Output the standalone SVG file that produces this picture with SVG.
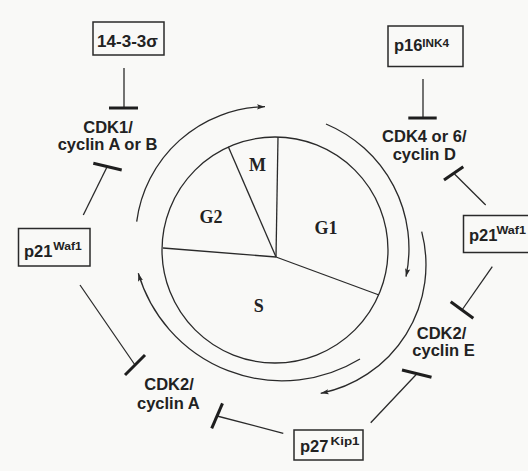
<svg xmlns="http://www.w3.org/2000/svg" width="528" height="471" viewBox="0 0 528 471">
<style>
.bg{fill:#f9f9f7}
.box{fill:none;stroke:#2a2a2a;stroke-width:1.5}
.ln{fill:none;stroke:#2a2a2a;stroke-width:1.3}
.bar{fill:none;stroke:#1e1e1e;stroke-width:3;stroke-linecap:butt}
.arc{fill:none;stroke:#2a2a2a;stroke-width:1.3;marker-end:url(#ah)}
.lab{font-family:"Liberation Sans",Arial,sans-serif;font-weight:bold;font-size:16.5px;fill:#222}
.sup{font-family:"Liberation Sans",Arial,sans-serif;font-weight:bold;font-size:11px;fill:#222}
.ph{font-family:"Liberation Serif","Times New Roman",serif;font-weight:bold;font-size:18px;fill:#222;text-anchor:middle}
</style>
<defs>
<marker id="ah" markerWidth="9" markerHeight="6" refX="8" refY="3" orient="auto" markerUnits="userSpaceOnUse">
<path d="M0,0.4 L8,3 L0,5.6 L1.5,3 z" fill="#2a2a2a"/>
</marker>
</defs>
<rect class="bg" x="0" y="0" width="528" height="471"/>

<g id="cycle">
<circle class="ln" cx="275" cy="250" r="113"/>
<line class="ln" x1="276" y1="257" x2="278" y2="137"/>
<line class="ln" x1="276" y1="257" x2="228.3" y2="146.7"/>
<line class="ln" x1="276" y1="257" x2="163" y2="248"/>
<line class="ln" x1="276" y1="257" x2="379" y2="295"/>
<text class="ph" x="257.5" y="171">M</text>
<text class="ph" x="211" y="223">G2</text>
<text class="ph" x="326" y="233.5">G1</text>
<text class="ph" x="258.7" y="311.5">S</text>
</g>

<g id="cycle-arrows">
<path class="arc" d="M136.7,221.7 A132,132 0 0 1 265,106.7"/>
<path class="arc" d="M326,124 A135,135 0 0 1 406,276.7"/>
<path class="arc" d="M421.7,231.7 A131,131 0 0 1 320.7,393.3"/>
<path class="arc" d="M360,359 A150,150 0 0 1 138.3,273.3"/>
</g>

<g id="n1433">
<rect class="box" x="93" y="22" width="71" height="33"/>
<text class="lab" x="127.5" y="46.5" text-anchor="middle" style="font-size:17px">14-3-3σ</text>
</g>
<g id="np16">
<rect class="box" x="388" y="26" width="75" height="40.5"/>
<text class="lab" x="394" y="50.5">p16</text>
<text class="sup" x="422.3" y="47.3" textLength="26.7" lengthAdjust="spacingAndGlyphs">INK4</text>
</g>
<g id="np21left">
<rect class="box" x="18.5" y="228.5" width="71.5" height="37.5"/>
<text class="lab" x="24" y="256.5">p21</text>
<text class="sup" x="53.3" y="249.5" textLength="28.4" lengthAdjust="spacingAndGlyphs">Waf1</text>
</g>
<g id="np21right">
<rect class="box" x="463.5" y="215.5" width="80" height="37"/>
<text class="lab" x="469" y="241">p21</text>
<text class="sup" x="496.5" y="234.3" textLength="29.5" lengthAdjust="spacingAndGlyphs">Waf1</text>
</g>
<g id="np27">
<rect class="box" x="294" y="430" width="69" height="30"/>
<text class="lab" x="300" y="451.5">p27</text>
<text class="sup" x="330.5" y="444.5" textLength="29" lengthAdjust="spacingAndGlyphs">Kip1</text>
</g>
<g id="cdk1">
<text class="lab" x="108" y="133" text-anchor="middle">CDK1/</text>
<text class="lab" x="107.5" y="150" text-anchor="middle">cyclin A or B</text>
</g>
<g id="cdk4">
<text class="lab" x="424.3" y="141.7" text-anchor="middle">CDK4 or 6/</text>
<text class="lab" x="424.3" y="160" text-anchor="middle">cyclin D</text>
</g>
<g id="cdk2e">
<text class="lab" x="441.5" y="338.5" text-anchor="middle">CDK2/</text>
<text class="lab" x="443.5" y="356" text-anchor="middle">cyclin E</text>
</g>
<g id="cdk2a">
<text class="lab" x="169" y="390" text-anchor="middle">CDK2/</text>
<text class="lab" x="168.3" y="409" text-anchor="middle">cyclin A</text>
</g>

<g id="connectors">
<line class="ln" x1="124" y1="68" x2="124" y2="108"/>
<line class="bar" x1="109" y1="108" x2="138" y2="108"/>
<line class="ln" x1="423" y1="79" x2="423" y2="118"/>
<line class="bar" x1="408.3" y1="118" x2="436.7" y2="118"/>
<line class="ln" x1="83.3" y1="215" x2="107" y2="167"/>
<line class="bar" x1="93.3" y1="163.3" x2="121.7" y2="170"/>
<line class="ln" x1="485.7" y1="205" x2="454.5" y2="174"/>
<line class="bar" x1="444" y1="180" x2="463.3" y2="166.7"/>
<line class="ln" x1="492.3" y1="266.7" x2="462" y2="310"/>
<line class="bar" x1="450.7" y1="301.7" x2="473.3" y2="318.3"/>
<line class="ln" x1="370.7" y1="422.7" x2="416.7" y2="374"/>
<line class="bar" x1="402" y1="370" x2="431.5" y2="377.2"/>
<line class="ln" x1="80" y1="285" x2="135" y2="365"/>
<line class="bar" x1="125" y1="375" x2="145" y2="355"/>
<line class="ln" x1="283.3" y1="433.3" x2="217" y2="416"/>
<line class="bar" x1="211.7" y1="428.3" x2="222.5" y2="403.3"/>
</g>
</svg>
